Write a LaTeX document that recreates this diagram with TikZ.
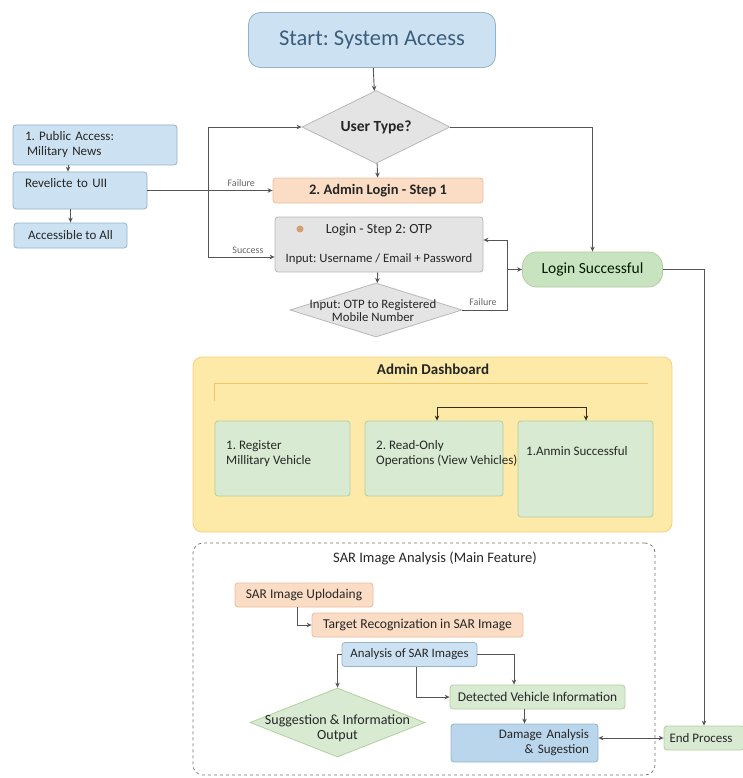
\documentclass[tikz,border=0pt]{standalone}
\usepackage{fontspec}
\setmainfont{Carlito}
\usetikzlibrary{shapes.geometric,arrows.meta}
\frenchspacing

\definecolor{bluefill}{HTML}{CCE2F2}
\definecolor{blueline}{HTML}{93B3CB}
\definecolor{bluedeep}{HTML}{BAD6EC}
\definecolor{startxt}{HTML}{3E5C7C}
\definecolor{greyfill}{HTML}{E4E4E4}
\definecolor{greyline}{HTML}{B8B8B8}
\definecolor{peachfill}{HTML}{FBDDC6}
\definecolor{peachline}{HTML}{E9BC9C}
\definecolor{greenfill}{HTML}{D8EAD2}
\definecolor{greenline}{HTML}{B3CF9E}
\definecolor{okfill}{HTML}{C8E3BF}
\definecolor{yellowfill}{HTML}{FDE9A8}
\definecolor{yellowline}{HTML}{F2D27E}
\definecolor{wire}{HTML}{555555}
\definecolor{dot}{HTML}{D2A06E}

\begin{document}
\begin{tikzpicture}[x=1pt,y=-1pt,
    txt/.style={font=\fontsize{13}{15}\selectfont, text=black!85},
    box/.style={txt, draw, line width=0.8pt, rounded corners=3pt, inner sep=2pt, align=center},
    bluebox/.style={box, fill=bluefill, draw=blueline},
    peachbox/.style={box, fill=peachfill, draw=peachline},
    greybox/.style={box, fill=greyfill, draw=greyline},
    greenbox/.style={box, fill=greenfill, draw=greenline},
    decision/.style={diamond, draw, line width=0.8pt, inner sep=0pt},
    arr/.style={draw=wire, line width=0.9pt, -{Stealth[length=5pt,width=4.5pt]}},
    note/.style={font=\fontsize{10}{11}\selectfont, text=black!60}]

    \useasboundingbox (0,0) rectangle (742,778);

    % 开始与用户类型
    \node[bluebox, rounded corners=12pt, minimum width=247, minimum height=55,
          font=\fontsize{22.5}{26}\selectfont, text=startxt] (start) at (372,40) {Start: System Access};
    \node[decision, fill=greyfill, draw=greyline, minimum width=148, minimum height=73] (usertype) at (376,127) {};
    \node[txt, font=\fontsize{15.5}{17}\selectfont\bfseries] (usertypetext) at (usertype) {User Type?};

    % 左侧公共访问
    \node[bluebox, minimum width=164, minimum height=40, text width=140, align=left] (pub) at (95,145)
        {1. Public Access:\\\hspace*{2pt}Military News};
    \node[bluebox, minimum width=134, text width=110, align=left, inner ysep=6.5pt,
          text height=9pt, text depth=15pt] (rev) at (80,190.5) {Revelicte to UII};
    \node[bluebox, minimum width=113, minimum height=25] (acc) at (70.5,235.5) {Accessible to All};

    % 管理员登录
    \node[peachbox, minimum width=210, minimum height=25,
          font=\fontsize{14.5}{16}\selectfont\bfseries] (admin1) at (378,190.5) {2. Admin Login - Step 1};
    \node[greybox, minimum width=208, minimum height=55, font=\fontsize{12.7}{14}\selectfont] (step2) at (379,244.5)
        {{\fontsize{14}{15}\selectfont Login - Step 2: OTP}\\[15pt] Input: Username / Email + Password};
    \node[circle, fill=dot, inner sep=0pt, minimum size=7pt] (dot) at (300,229) {};
    \node[decision, fill=greyfill, draw=greyline, minimum width=172, minimum height=54] (otp) at (376,310) {};
    \node[txt, align=center, font=\fontsize{12.8}{13}\selectfont] (otptext) at (373,310.5) {Input: OTP to Registered\\ Mobile Number};
    \node[greenbox, fill=okfill, rounded corners=14pt, minimum width=140, minimum height=35,
          font=\fontsize{15.5}{17}\selectfont, text=black!75!green!40!black] (loginok) at (592.5,269.5) {Login Successful};

    % 管理后台
    \node[box, fill=yellowfill, draw=yellowline, rounded corners=9pt, minimum width=479, minimum height=175] (dash) at (432.5,444.5) {};
    \node[txt, font=\fontsize{15}{17}\selectfont\bfseries] (dashtitle) at (433,369) {Admin Dashboard};
    \draw[yellowline!80!orange, line width=0.6pt] (214,401) -- (214,383) -- (648,383);
    \node[greenbox, minimum width=135, minimum height=75] (register) at (282.5,458.5) {};
    \node[greenbox, minimum width=138, minimum height=75] (readonly) at (434,458.5) {};
    \node[greenbox, minimum width=135, minimum height=96] (anmin) at (585.5,469) {};
    \node[txt, anchor=west, align=left, inner sep=0pt] (registertext) at (226,454) {1. Register\\ Millitary Vehicle};
    \node[txt, anchor=west, align=left, inner sep=0pt] (readonlytext) at (376,454) {2. Read-Only\\ Operations (View Vehicles)};
    \node[txt, anchor=west, inner sep=0pt] (anmintext) at (526,451) {1.Anmin Successful};

    % SAR 图像分析
    \node[draw=black!55, dashed, line width=0.7pt, rounded corners=10pt, minimum width=462, minimum height=232] (sarframe) at (424,659) {};
    \node[txt, font=\fontsize{14.5}{16}\selectfont] (sartitle) at (435,558) {SAR Image Analysis (Main Feature)};
    \node[peachbox, minimum width=138, minimum height=24, font=\fontsize{13.4}{15}\selectfont] (upload) at (304,595) {SAR Image Uplodaing};
    \node[peachbox, minimum width=211, minimum height=24, font=\fontsize{13.6}{15}\selectfont] (target) at (417.5,625) {Target Recognization in SAR Image};
    \node[bluebox, minimum width=135, minimum height=24, font=\fontsize{12.8}{14}\selectfont] (analysis) at (409.5,654.5) {Analysis of SAR Images};
    \node[greenbox, minimum width=175, minimum height=24, font=\fontsize{13.4}{15}\selectfont] (detected) at (537.5,697) {Detected Vehicle Information};
    \node[decision, fill=greenfill, draw=greenline, minimum width=175, minimum height=69] (suggest) at (337.5,722.5) {};
    \node[txt, align=center, font=\fontsize{14}{15}\selectfont] (suggesttext) at (337.5,728) {Suggestion \& Information\\ Output};
    \node[bluebox, fill=bluedeep, minimum width=147, minimum height=38, text width=129, align=right,
          font=\fontsize{13}{15}\selectfont] (damage) at (524.5,743) {Damage Analysis\\ \& Sugestion};
    \node[greenbox, minimum width=80, minimum height=24] (endp) at (704,738) {End Process\hspace*{6pt}};

    % 连线
    \draw[arr] (start) -- (usertype);
    \draw[arr] (usertype.east) -| (loginok.north);
    \draw[arr] (usertype) -- (admin1);
    \draw[arr] ([xshift=-27pt]pub.south) -- ([xshift=-27pt]pub.south |- rev.north);
    \draw[arr] (acc.north |- rev.south) -- (acc.north);
    \draw[arr] (rev.east) -- (rev.east -| admin1.west) node[note, pos=0.75, above] {Failure};
    \coordinate (sback) at (208,257);
    \draw[arr] (sback) |- (usertype.west);
    \draw[arr] (sback) -- (sback -| step2.west) node[note, pos=0.6, above] {Success};
    \draw[arr] (step2) -- (otp);
    \coordinate (fturn) at (507,240);
    \draw[arr] (otp.east) -| (fturn) -- (fturn -| step2.east);
    \node[note] (faillabel) at (483,302) {Failure};
    \draw[arr] (fturn |- loginok.west) -- (loginok.west);
    \draw[arr] (loginok.east) -| (endp.north);
    \draw[wire!80!yellow!40!black, line width=0.9pt, {Stealth[length=5pt,width=4.5pt]}-{Stealth[length=5pt,width=4.5pt]}]
        ([xshift=3pt]readonly.north) -- ++(0,-13) -| ([xshift=0.5pt]anmin.north);
    \draw[arr] ([xshift=-7pt]upload.south) |- (target.west);
    \draw[arr] (analysis.west) -| (suggest.north);
    \draw[arr] (analysis.east) -| ([xshift=-23.5pt]detected.north);
    \draw[arr] ([xshift=6.5pt]analysis.south) |- (detected.west);
    \draw[arr] (damage.north |- detected.south) -- (damage.north);
    \draw[arr, {Stealth[length=5pt,width=4.5pt]}-{Stealth[length=5pt,width=4.5pt]}] (damage.east |- endp.west) -- (endp.west);

\end{tikzpicture}
\end{document}
